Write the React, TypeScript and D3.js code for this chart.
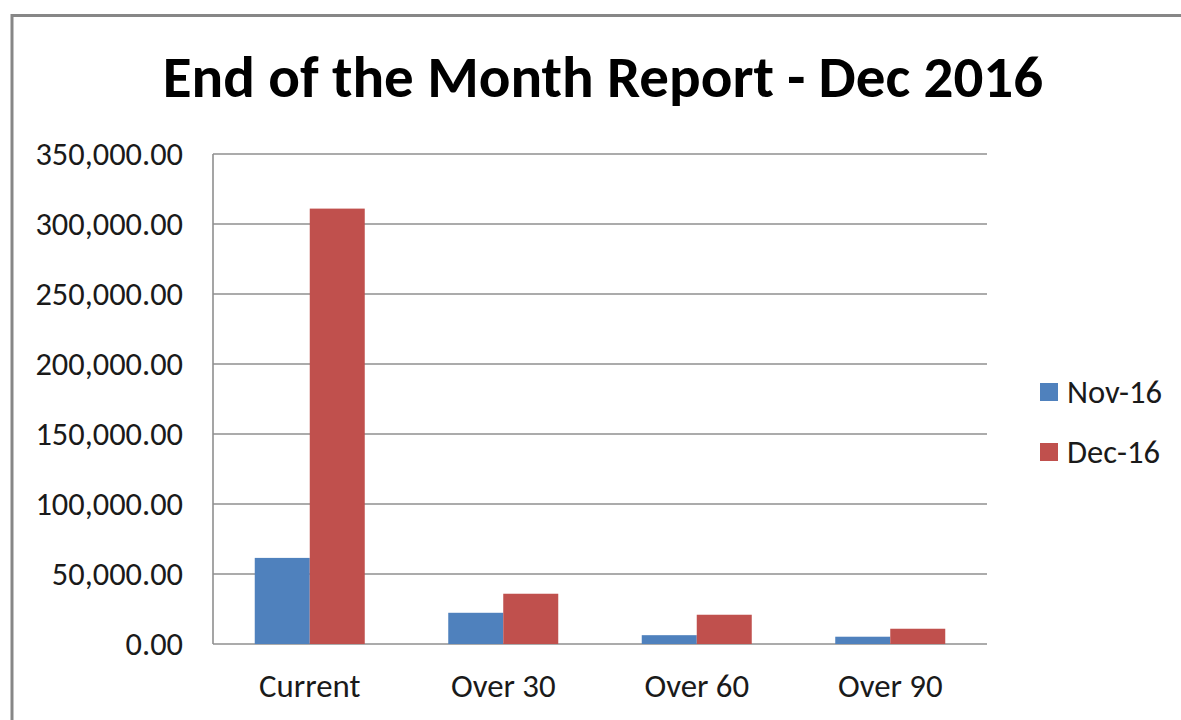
import React from 'react';
import * as d3 from 'd3';

// chart values
const categories = ['Current', 'Over 30', 'Over 60', 'Over 90'];
const seriesNames = ['Nov-16', 'Dec-16'];
const nov16 = [61500, 22300, 6300, 5200];
const dec16 = [311000, 35900, 20900, 10900];
const yTicks = [0, 50000, 100000, 150000, 200000, 250000, 300000, 350000];

const colors = ['#4F81BD', '#C0504D'];
const font = "Calibri, Carlito, 'Liberation Sans', Arial, sans-serif";

const App = () => {
  const width = 1181, height = 720;
  const plot = { left: 213, right: 987, top: 154, bottom: 644 };

  const x = d3.scaleBand<string>()
    .domain(categories)
    .range([plot.left, plot.right])
    .padding(0);

  // two bars side by side, centered in each category slot
  const group = 110;
  const inner = d3.scaleBand<string>()
    .domain(seriesNames)
    .range([(x.bandwidth() - group) / 2, (x.bandwidth() + group) / 2])
    .padding(0);

  const y = d3.scaleLinear()
    .domain([0, 350000])
    .range([plot.bottom, plot.top]);

  const fmt = d3.format(',.2f');
  const series = [nov16, dec16];

  return (
    <svg width={width} height={height}
      style={{ position: 'absolute', left: 0, top: 0, background: '#fff' }}>
      {/* chart frame, cut off at the right and bottom like the screenshot */}
      <rect x={12} y={15.5} width={width + 20} height={height + 20}
        fill="#fff" stroke="#878787" strokeWidth={3} />

      <text x={603} y={97} textAnchor="middle" fontFamily={font}
        fontWeight="bold" fontSize={59} fill="#000">
        End of the Month Report - Dec 2016
      </text>

      {/* gridlines and y labels */}
      {yTicks.map(t => (
        <g key={t}>
          <line x1={plot.left} x2={plot.right} y1={y(t)} y2={y(t)}
            stroke="#8f8f8f" strokeWidth={1.6} />
          <text x={183} y={y(t)} dy="0.34em" textAnchor="end"
            fontFamily={font} fontSize={32.4} fill="#1a1a1a">
            {fmt(t)}
          </text>
        </g>
      ))}
      <line x1={plot.left} x2={plot.left} y1={plot.top} y2={plot.bottom}
        stroke="#8f8f8f" strokeWidth={1.6} />

      {/* bars */}
      {categories.map((c, i) => (
        <g key={c} transform={`translate(${x(c)},0)`}>
          {seriesNames.map((s, j) => (
            <rect key={s}
              x={inner(s)}
              y={y(series[j][i])}
              width={inner.bandwidth()}
              height={y(0) - y(series[j][i])}
              fill={colors[j]} />
          ))}
        </g>
      ))}

      {/* x labels */}
      {categories.map(c => (
        <text key={c} x={(x(c) as number) + x.bandwidth() / 2} y={697}
          textAnchor="middle" fontFamily={font} fontSize={32.8} fill="#1a1a1a">
          {c}
        </text>
      ))}

      {/* legend */}
      {seriesNames.map((s, j) => (
        <g key={s} transform={`translate(1040,${383 + j * 60})`}>
          <rect x={0} y={0} width={18} height={18} fill={colors[j]} />
          <text x={27} y={20} fontFamily={font} fontSize={32.6} fill="#1a1a1a">{s}</text>
        </g>
      ))}
    </svg>
  );
};

export default App;
